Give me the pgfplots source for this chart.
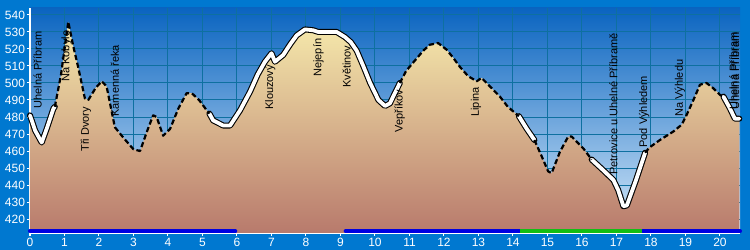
\documentclass[border=0pt]{standalone}
\usepackage{pgfplots}
\pgfplotsset{compat=1.18}
\usepackage{pgfplotstable}
\usepackage{fontspec}
\setmainfont{Liberation Sans}
\usetikzlibrary{backgrounds}
\definecolor{outerblue}{RGB}{0,120,208}
\definecolor{skytop}{RGB}{10,100,192}
\definecolor{skybot}{RGB}{214,234,250}
\definecolor{gridc}{RGB}{14,112,160}
\definecolor{filltop}{RGB}{246,234,172}
\definecolor{fillbot}{RGB}{184,122,108}
\definecolor{barblue}{RGB}{0,0,225}
\definecolor{bargreen}{RGB}{20,190,20}
\pgfplotstableread{
km e
0.00 481
0.15 472
0.34 465
0.50 474
0.68 485
0.72 486
0.90 505
1.11 536
1.25 522
1.40 509
1.59 491
1.69 490
1.90 497
2.08 501
2.22 498
2.46 474
2.70 468
3.00 461
3.19 460
3.40 472
3.57 481
3.67 480
3.86 469
4.06 473
4.30 485
4.54 494
4.69 494
4.90 490
5.12 484
5.20 482
5.31 478
5.60 475
5.80 475
6.09 484
6.38 495
6.60 505
6.81 512.5
7.00 517.5
7.10 512.5
7.34 516.5
7.55 523
7.73 528
7.97 531.5
8.21 531
8.36 530
8.89 530
9.13 527
9.30 524
9.47 519
9.66 510
9.86 500
10.10 490
10.29 486.5
10.43 488
10.60 495
10.72 500
10.90 507
11.21 514.5
11.40 519
11.59 522.5
11.83 523.5
12.08 519.5
12.26 515
12.46 509.5
12.70 504
12.95 501
13.09 503
13.33 498
13.62 492
13.85 486
14.17 480.5
14.40 473
14.62 466.5
14.83 457
15.02 448
15.12 447
15.36 459.5
15.60 468.5
15.70 468.5
16.04 461.5
16.28 455
16.60 449
16.91 443
17.05 437
17.20 427.5
17.30 428
17.55 442
17.83 459
17.95 462
18.26 466.5
18.65 471.5
18.89 475.5
19.05 482
19.23 490
19.42 499
19.61 500
19.80 497
20.00 493
20.10 492
20.29 485
20.43 479
20.56 479
}\prof
\pgfplotstableread{
x y
0.00 412.9
5.95 412.9
}\barA
\pgfplotstableread{
x y
9.15 412.9
14.20 412.9
}\barB
\pgfplotstableread{
x y
14.20 412.9
17.75 412.9
}\barC
\pgfplotstableread{
x y
17.75 412.9
20.58 412.9
}\barD
\begin{document}
\begin{tikzpicture}
\begin{axis}[name=ax,
  scale only axis, width=355pt, height=112.5pt,
  xmin=0, xmax=20.58, ymin=411.8, ymax=544.1,
  axis lines*=left,
  axis line style={white, line width=0.6pt},
  xtick={0,1,...,20}, ytick={420,430,...,540},
  tick style={white, line width=0.5pt},
  major tick length=1.5pt, tick align=outside,
  ticklabel style={white, font=\fontsize{6}{7}\selectfont, inner sep=0.8pt},
  /pgf/number format/assume math mode=true,
  grid=major, major grid style={draw=gridc, line width=0.5pt},
  axis background/.style={top color=skytop, bottom color=skybot},
  clip=false,
]
\addplot[draw=none, top color=filltop, bottom color=fillbot] table[x=km,y=e] {\prof} \closedcycle;
% white segments
\pgfplotsinvokeforeach{{-0.001:0.721},{5.199:10.721},{14.169:14.621},{16.279:17.831},{20.099:20.6}}{
  \addplot[black, line width=3pt, line join=round, line cap=round, restrict x to domain=#1] table[x=km,y=e] {\prof};
  \addplot[white, line width=1.9pt, line join=round, line cap=round, restrict x to domain=#1] table[x=km,y=e] {\prof};
}
% dashed segments
\pgfplotsinvokeforeach{{0.719:5.201},{10.719:14.171},{14.619:16.281},{17.829:20.101}}{
  \addplot[black, line width=1.1pt, dash pattern=on 2.6pt off 1.4pt, line join=round, restrict x to domain=#1] table[x=km,y=e] {\prof};
}
\addplot[barblue, line width=2pt, line cap=round] table {\barA};
\addplot[barblue, line width=2pt, line cap=round] table {\barB};
\addplot[barblue, line width=2pt, line cap=round] table {\barD};
\addplot[bargreen, line width=2pt] table {\barC};
\tikzset{lbl/.style={rotate=90, anchor=west, inner sep=0pt, font=\fontsize{5.5}{6}\selectfont}}
\node[lbl] at (axis cs:0.22,484.7) {Uhelná Příbram};
\node[lbl] at (axis cs:1.06,500.6) {Na Kobyle};
\node[lbl] at (axis cs:1.62,459.4) {Tři Dvory};
\node[lbl] at (axis cs:2.46,480) {Kamenná řeka};
\node[lbl] at (axis cs:6.96,484.1) {Klouzový};
\node[lbl] at (axis cs:8.36,503.5) {Nejepín};
\node[lbl] at (axis cs:9.18,497) {Květinov};
\node[lbl] at (axis cs:10.72,470.6) {Vepříkov};
\node[lbl] at (axis cs:12.93,480) {Lipina};
\node[lbl] at (axis cs:16.91,445.9) {Petrovice u Uhelné Příbramě};
\node[lbl] at (axis cs:17.80,461.8) {Pod Výhledem};
\node[lbl] at (axis cs:18.84,480) {Na Výhledu};
\node[lbl] at (axis cs:20.39,484.1) {Uhelná Příbram};
\node[lbl] at (axis cs:20.44,484.1) {Uhelná Příbram};
\end{axis}
\begin{scope}[on background layer]
\fill[outerblue] ([shift={(-15pt,-8.5pt)}]ax.south west) rectangle ([shift={(5pt,4pt)}]ax.north east);
\end{scope}
\end{tikzpicture}
\end{document}
